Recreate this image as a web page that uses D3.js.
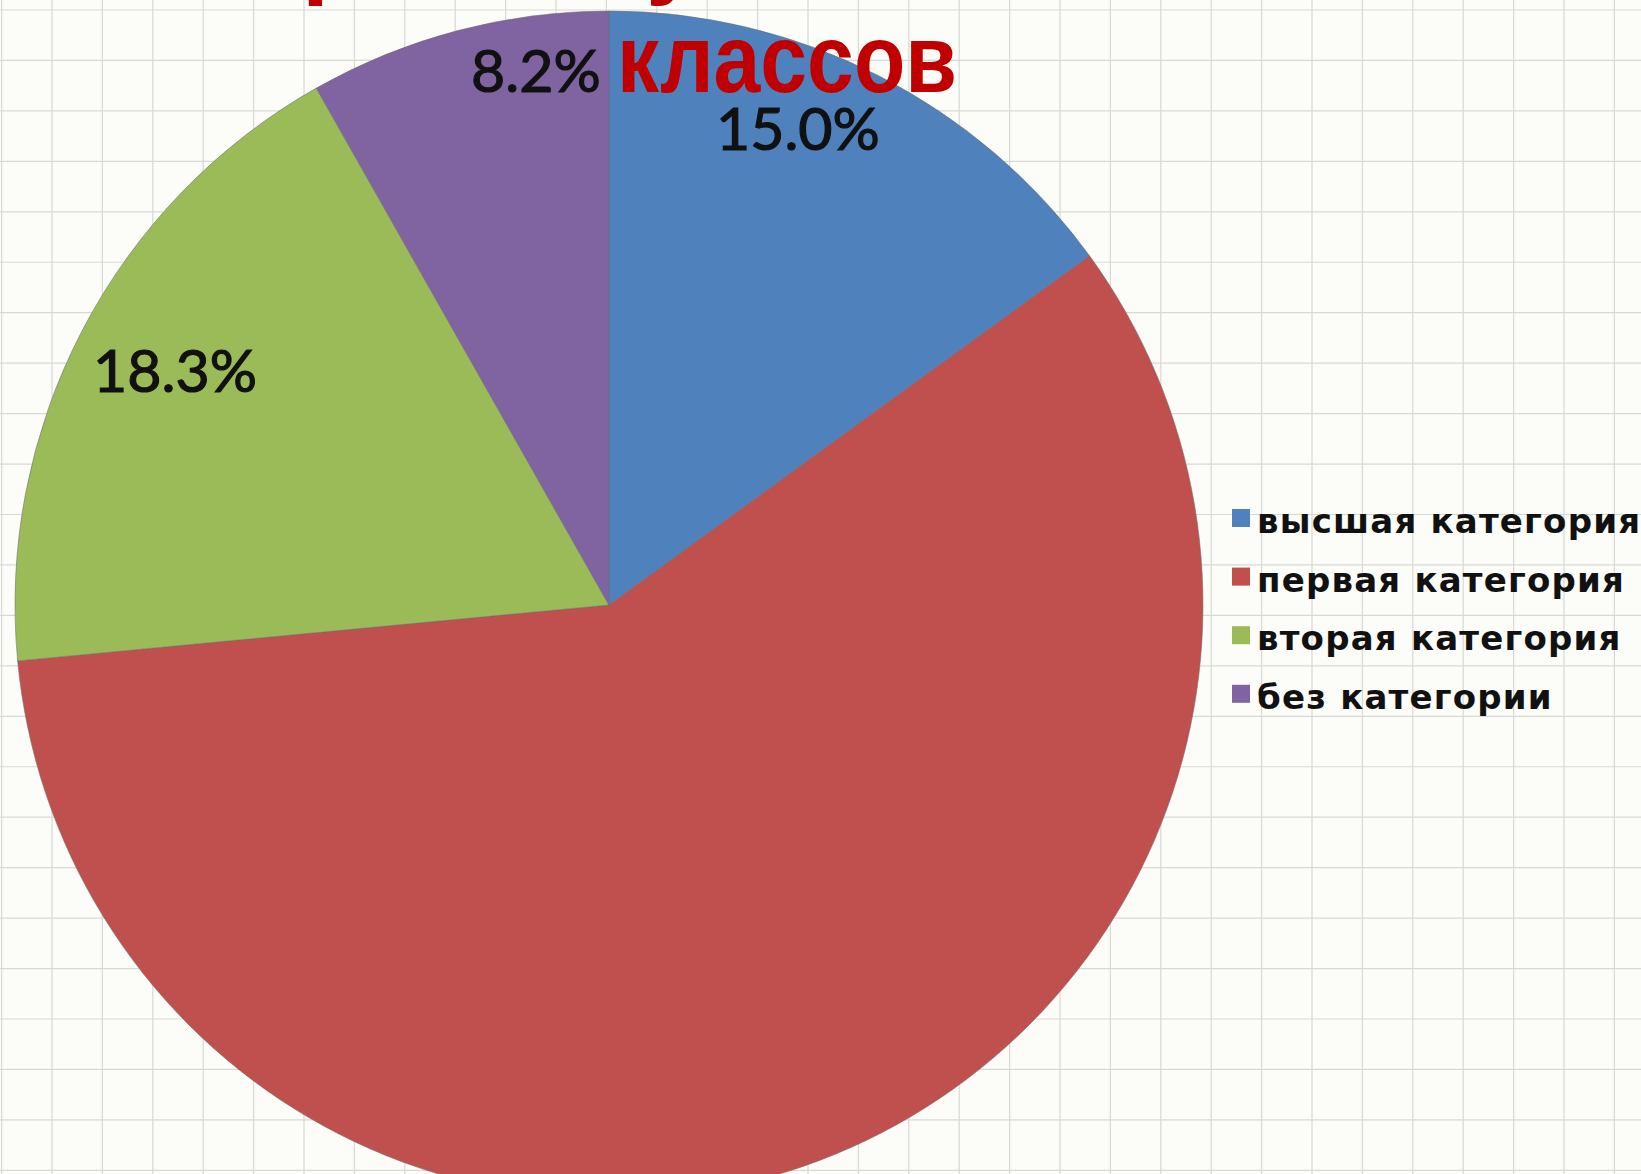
<!DOCTYPE html>
<html>
<head>
<meta charset="utf-8">
<script src="https://cdnjs.cloudflare.com/ajax/libs/d3/7.8.5/d3.min.js"></script>
<style>
	html, body { margin: 0; padding: 0; background: #fcfcf8; overflow: hidden; }
	svg { display: block; }
</style>
</head>
<body>
<div id="chart"></div>
<script>
// Chart data
const categories = [ 'высшая категория', 'первая категория', 'вторая категория', 'без категории' ];
const shares = [ 15.0, 58.5, 18.3, 8.2 ];
const labelShown = [ true, false, true, true ];
const colors = [ '#4f81bd', '#c0504d', '#9bbb59', '#8064a2' ];
const titleLine = 'классов';

const width = 1641,
	height = 1174;

const svg = d3.select( '#chart' )
	.append( 'svg' )
	.attr( 'width', width )
	.attr( 'height', height );

// Squared paper background
const grid = svg.append( 'g' ).attr( 'stroke', '#d8d8d4' ).attr( 'stroke-width', 1.2 );
d3.range( 1.6, width, 50.4 ).forEach( ( x ) => {
	grid.append( 'line' ).attr( 'x1', x ).attr( 'x2', x ).attr( 'y1', 0 ).attr( 'y2', height );
} );
d3.range( 10, height, 50.45 ).forEach( ( y ) => {
	grid.append( 'line' ).attr( 'y1', y ).attr( 'y2', y ).attr( 'x1', 0 ).attr( 'x2', width );
} );

// Pie
const cx = 609,
	cy = 605,
	radius = 594;

const data = categories.map( ( name, i ) => ( {
	name,
	value: shares[ i ],
	color: colors[ i ],
	showLabel: labelShown[ i ],
} ) );

const pie = d3.pie().sort( null ).value( ( d ) => d.value );
const arc = d3.arc().innerRadius( 0 ).outerRadius( radius );
const labelArc = d3.arc().innerRadius( radius * 0.86 ).outerRadius( radius * 0.86 );

const chartGroup = svg.append( 'g' ).attr( 'transform', `translate(${ cx },${ cy })` );

const arcs = pie( data );

chartGroup.selectAll( 'path' )
	.data( arcs )
	.enter()
	.append( 'path' )
	.attr( 'd', arc )
	.attr( 'fill', ( d ) => d.data.color )
	.attr( 'stroke', 'rgba(110,110,110,0.55)' )
	.attr( 'stroke-width', 1 );

// Excel pushes the labels around a bit, nudge them to match
const labelNudge = {
	'высшая категория': [ -43, -21 ],
	'вторая категория': [ 19, 2 ],
	'без категории': [ 57, -40 ],
};

chartGroup.selectAll( 'text.pct' )
	.data( arcs.filter( ( d ) => d.data.showLabel ) )
	.enter()
	.append( 'text' )
	.attr( 'class', 'pct' )
	.attr( 'transform', ( d ) => {
		const [ x, y ] = labelArc.centroid( d );
		const n = labelNudge[ d.data.name ] || [ 0, 0 ];
		return `translate(${ x + n[ 0 ] },${ y + n[ 1 ] })`;
	} )
	.attr( 'text-anchor', 'middle' )
	.attr( 'dy', '0.36em' )
	.style( 'font-family', 'Lato, "Open Sans", sans-serif' )
	.style( 'font-size', '59px' )
	.attr( 'fill', '#111' )
	.attr( 'stroke', '#111' )
	.attr( 'stroke-width', 1.2 )
	.text( ( d ) => `${ d.data.value.toFixed( 1 ) }%` );

// Legend
const legend = svg.append( 'g' ).attr( 'transform', 'translate(1232,533)' );
const rowStep = 58.6;

const rows = legend.selectAll( 'g' )
	.data( data )
	.enter()
	.append( 'g' )
	.attr( 'transform', ( d, i ) => `translate(0,${ i * rowStep })` );

rows.append( 'rect' )
	.attr( 'x', 0 )
	.attr( 'y', -24 )
	.attr( 'width', 18 )
	.attr( 'height', 18 )
	.attr( 'fill', ( d ) => d.color );

rows.append( 'text' )
	.attr( 'x', 25 )
	.attr( 'y', 0 )
	.style( 'font-family', '"DejaVu Sans", Verdana, sans-serif' )
	.style( 'font-weight', 'bold' )
	.style( 'font-size', '34px' )
	.style( 'letter-spacing', '1.2px' )
	.attr( 'fill', '#111' )
	.text( ( d ) => d.name );

// Title, the upper line is cut off by the slide edge
const title = svg.append( 'g' )
	.style( 'font-family', '"Liberation Sans", Arial, sans-serif' )
	.style( 'font-weight', 'bold' )
	.style( 'font-size', '97px' )
	.attr( 'fill', '#c00000' );

title.append( 'text' ).attr( 'x', 302 ).attr( 'y', -14 ).text( 'р' );
title.append( 'text' ).attr( 'x', 646 ).attr( 'y', -14 ).text( 'у' );

title.append( 'text' )
	.attr( 'x', 617 )
	.attr( 'y', 92 )
	.attr( 'textLength', 340 )
	.attr( 'lengthAdjust', 'spacingAndGlyphs' )
	.text( titleLine );
</script>
</body>
</html>
